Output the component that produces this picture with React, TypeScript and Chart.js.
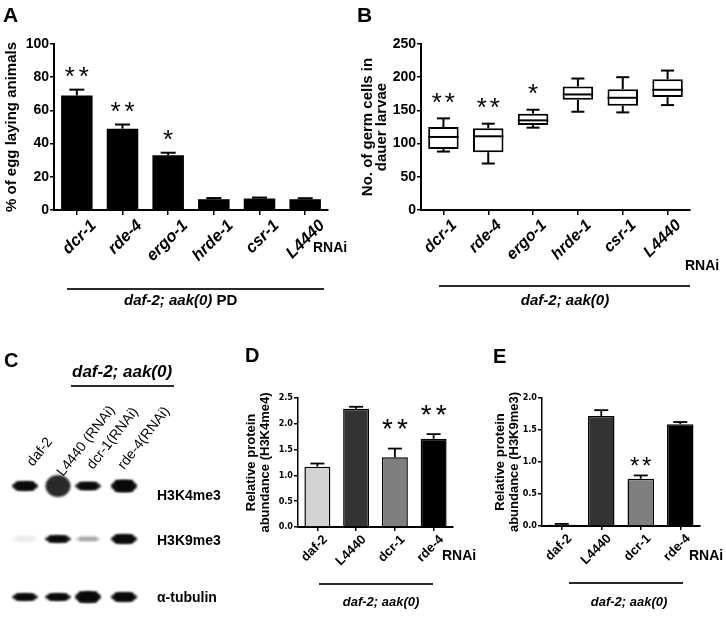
import React, { useEffect, useRef } from 'react';
import { Chart, registerables } from 'chart.js';

Chart.register(...registerables);

const FONT = "'Liberation Sans', Arial, Helvetica, sans-serif";
const NARROW = "'Liberation Sans Narrow', 'DejaVu Sans Condensed', 'Liberation Sans', sans-serif";

// ---------- Panel A ----------
const A_CATEGORIES = ['dcr-1', 'rde-4', 'ergo-1', 'hrde-1', 'csr-1', 'L4440'];
const A_VALUES = [69, 49, 33, 6.5, 7, 6.5];
const A_ERRORS = [3.5, 2.5, 1.5, 0.7, 0.5, 0.6];
const A_STARS = ['**', '**', '*', '', '', ''];
const A_TICKS = [0, 20, 40, 60, 80, 100];

// ---------- Panel B ----------
const B_CATEGORIES = ['dcr-1', 'rde-4', 'ergo-1', 'hrde-1', 'csr-1', 'L4440'];
const B_MIN = [88, 70, 124, 148, 147, 158];
const B_Q1 = [92, 87, 128, 166, 157, 170];
const B_MEDIAN = [110, 111, 135, 174, 169, 181];
const B_Q3 = [125, 123, 145, 186, 182, 197];
const B_MAX = [138, 130, 151, 198, 200, 210];
const B_STARS = ['**', '**', '*', '', '', ''];
const B_TICKS = [0, 50, 100, 150, 200, 250];

// ---------- Panels D & E ----------
const DE_CATEGORIES = ['daf-2', 'L4440', 'dcr-1', 'rde-4'];
const DE_COLORS = ['#d3d3d3', '#333333', '#7f7f7f', '#000000'];
const D_VALUES = [1.17, 2.29, 1.35, 1.71];
const D_ERRORS = [0.06, 0.04, 0.17, 0.09];
const D_STARS = ['', '', '**', '**'];
const D_TICKS = [0, 0.5, 1.0, 1.5, 2.0, 2.5];
const E_VALUES = [0.025, 1.72, 0.74, 1.59];
const E_ERRORS = [0.008, 0.09, 0.05, 0.035];
const E_STARS = ['', '', '**', ''];
const E_TICKS = [0, 0.5, 1.0, 1.5, 2.0];

// ---------- Panel C (western blot) ----------
const BLOT_LANES = ['daf-2', 'L4440 (RNAi)', 'dcr-1(RNAi)', 'rde-4(RNAi)'];
const BLOT_ROWS = ['H3K4me3', 'H3K9me3', 'α-tubulin'];
const BLOT_DARKNESS = [
  [0.97, 0.95, 0.9, 0.97],
  [0.04, 0.92, 0.2, 0.97],
  [0.95, 0.95, 0.97, 0.95],
];
const BLOT_THICKNESS = [
  [9, 22, 8, 12],
  [7, 7, 5, 9],
  [7, 7, 11, 9],
];

const annotPlugin = {
  id: 'annot',
  afterDatasetsDraw(chart: any, _args: any, opts: any) {
    const ctx = chart.ctx;
    const ys = chart.scales.y;
    const meta = chart.getDatasetMeta(0);
    const line = (x1: number, y1: number, x2: number, y2: number) => {
      ctx.beginPath();
      ctx.moveTo(x1, y1);
      ctx.lineTo(x2, y2);
      ctx.stroke();
    };
    ctx.save();
    ctx.strokeStyle = '#000';
    ctx.lineWidth = opts.lineWidth || 2;
    const tops: number[] = [];
    meta.data.forEach((el: any, i: number) => {
      const x = el.x;
      const cap = opts.cap / 2;
      if (opts.box) {
        const b = opts.box;
        const half = el.width / 2;
        const pMed = ys.getPixelForValue(b.median[i]);
        line(x - half, pMed, x + half, pMed);
        const pMax = ys.getPixelForValue(b.max[i]);
        const pQ3 = ys.getPixelForValue(b.q3[i]);
        const pMin = ys.getPixelForValue(b.min[i]);
        const pQ1 = ys.getPixelForValue(b.q1[i]);
        line(x, pQ3, x, pMax);
        line(x - cap, pMax, x + cap, pMax);
        line(x, pQ1, x, pMin);
        line(x - cap, pMin, x + cap, pMin);
        tops[i] = b.max[i];
      } else {
        const v = opts.values[i];
        const e = opts.errors[i];
        const p0 = ys.getPixelForValue(v);
        const p1 = ys.getPixelForValue(v + e);
        line(x, p0, x, p1);
        line(x - cap, p1, x + cap, p1);
        tops[i] = v + e;
      }
    });
    ctx.fillStyle = '#000';
    ctx.font = opts.starFont;
    ctx.textAlign = 'center';
    ctx.textBaseline = 'middle';
    (opts.stars as string[]).forEach((s, i) => {
      if (!s) return;
      const el = meta.data[i];
      const y = ys.getPixelForValue(tops[i]) - opts.starGap;
      const n = s.length;
      for (let k = 0; k < n; k++) {
        const sx = el.x + (k - (n - 1) / 2) * opts.starSpacing;
        ctx.fillText('*', sx, y);
      }
    });
    ctx.restore();
  },
};

function makeConfig(p: any) {
  return {
    type: 'bar',
    data: {
      labels: p.labels,
      datasets: [
        {
          data: p.data,
          backgroundColor: p.colors,
          borderColor: '#000',
          borderWidth: p.borderWidth,
          borderSkipped: p.borderSkipped,
          barPercentage: p.barPct,
          categoryPercentage: 1,
        },
      ],
    },
    plugins: [annotPlugin],
    options: {
      animation: false,
      responsive: false,
      maintainAspectRatio: false,
      events: [],
      layout: { padding: p.pad },
      plugins: {
        legend: { display: false },
        tooltip: { enabled: false },
        annot: p.annot,
      },
      scales: {
        x: {
          grid: {
            display: true,
            drawOnChartArea: false,
            offset: false,
            tickLength: p.xTickLen,
            color: '#000',
            lineWidth: 1.5,
          },
          border: { display: true, color: '#000', width: p.xBorder },
          ticks: {
            color: '#000',
            font: p.catFont,
            maxRotation: 45,
            minRotation: 45,
            labelOffset: p.labelOffset,
            padding: p.xPad,
            autoSkip: false,
          },
          afterFit: (s: any) => {
            s.height = p.xHeight;
          },
        },
        y: {
          min: p.yMin,
          max: p.yMax,
          afterBuildTicks: (s: any) => {
            s.ticks = p.ticks.map((v: number) => ({ value: v }));
          },
          grid: {
            display: true,
            drawOnChartArea: false,
            tickLength: p.yTickLen,
            color: '#000',
            lineWidth: 1.5,
          },
          border: { display: true, color: '#000', width: p.yBorder },
          ticks: {
            color: '#000',
            font: p.tickFont,
            padding: 1,
            callback: p.tickFmt,
          },
          title: {
            display: true,
            text: p.title,
            color: '#000',
            font: p.titleFont,
            padding: { top: p.titlePad, bottom: 0 },
          },
          afterFit: (s: any) => {
            s.width = p.yWidth;
          },
        },
      },
    },
  };
}

function ChartCanvas({ left, top, width, height, config }: any) {
  const ref = useRef<HTMLCanvasElement | null>(null);
  useEffect(() => {
    const chart = new Chart(ref.current as HTMLCanvasElement, config() as any);
    return () => chart.destroy();
  }, []);
  return (
    <canvas
      ref={ref}
      width={width}
      height={height}
      style={{ position: 'absolute', left, top, width, height }}
    />
  );
}

function T({ x, y, size, weight = 'bold', italic = false, center = false, rotate = 0, children }: any) {
  const asc = 0.8465 * size;
  const transforms: string[] = [];
  if (center) transforms.push('translateX(-50%)');
  if (rotate) transforms.push(`rotate(${rotate}deg)`);
  return (
    <div
      style={{
        position: 'absolute',
        left: x,
        top: y - asc,
        fontFamily: FONT,
        fontSize: size,
        lineHeight: `${size}px`,
        fontWeight: weight,
        fontStyle: italic ? 'italic' : 'normal',
        whiteSpace: 'nowrap',
        color: '#000',
        transform: transforms.length ? transforms.join(' ') : undefined,
        transformOrigin: rotate ? `0px ${asc}px` : undefined,
      }}
    >
      {children}
    </div>
  );
}

function HLine({ x1, x2, y }: any) {
  return (
    <div
      style={{
        position: 'absolute',
        left: x1,
        top: y - 1,
        width: x2 - x1,
        height: 2,
        background: '#2a2a2a',
      }}
    />
  );
}

function Blot() {
  const ref = useRef<HTMLCanvasElement | null>(null);
  useEffect(() => {
    const c = ref.current as HTMLCanvasElement;
    const ctx = c.getContext('2d') as CanvasRenderingContext2D;
    ctx.clearRect(0, 0, c.width, c.height);
    const laneX = [25, 58, 88, 124];
    const rowY = [486, 539, 597];
    ctx.filter = 'blur(1.3px)';
    BLOT_DARKNESS.forEach((row, r) => {
      row.forEach((d, l) => {
        const t = BLOT_THICKNESS[r][l];
        const big = t > 15;
        const shade = big ? 30 : 10;
        ctx.fillStyle = `rgba(${shade},${shade},${shade},${d})`;
        ctx.beginPath();
        ctx.ellipse(laneX[l], rowY[r], big ? 12.5 : 13, t / 2, 0, 0, Math.PI * 2);
        ctx.fill();
        if (!big) {
          ctx.fillRect(laneX[l] - 9, rowY[r] - t / 2, 18, t);
        }
      });
    });
  }, []);
  return (
    <canvas
      ref={ref}
      width={726}
      height={619}
      style={{ position: 'absolute', left: 0, top: 0, width: 726, height: 619 }}
    />
  );
}

const boldFont = (size: number, italic = false, family = FONT) => ({
  family,
  size,
  weight: 'bold',
  style: italic ? 'italic' : 'normal',
  lineHeight: 1.2,
});

export default function App() {
  const configA = () =>
    makeConfig({
      labels: A_CATEGORIES,
      data: A_VALUES,
      colors: '#000',
      borderWidth: 0,
      borderSkipped: 'start',
      barPct: 0.69,
      pad: { left: 0, top: 44, right: 32, bottom: 0 },
      xHeight: 100,
      yWidth: 54,
      yMin: 0,
      yMax: 100,
      ticks: A_TICKS,
      tickFmt: (v: any) => String(v),
      tickFont: boldFont(14),
      catFont: boldFont(16.5, true),
      title: '% of egg laying animals',
      titleFont: boldFont(15),
      titlePad: 3,
      labelOffset: 17,
      xPad: 1,
      xTickLen: 5,
      yTickLen: 4,
      xBorder: 2,
      yBorder: 2,
      annot: {
        values: A_VALUES,
        errors: A_ERRORS,
        stars: A_STARS,
        cap: 15,
        starFont: `26px ${FONT}`,
        starGap: 12,
        starSpacing: 14,
      },
    });

  const configB = () =>
    makeConfig({
      labels: B_CATEGORIES,
      data: B_Q1.map((q, i) => [q, B_Q3[i]]),
      colors: '#fff',
      borderWidth: 2,
      borderSkipped: false,
      barPct: 0.68,
      pad: { left: 0, top: 44, right: 36, bottom: 0 },
      xHeight: 100,
      yWidth: 61,
      yMin: 0,
      yMax: 250,
      ticks: B_TICKS,
      tickFmt: (v: any) => String(v),
      tickFont: boldFont(14),
      catFont: boldFont(16, true),
      title: ['No. of germ cells in', 'dauer larvae'],
      titleFont: { ...boldFont(15), lineHeight: 0.9 },
      titlePad: 1.5,
      labelOffset: 11,
      xPad: 1,
      xTickLen: 5,
      yTickLen: 4,
      xBorder: 2,
      yBorder: 2,
      annot: {
        box: { min: B_MIN, q1: B_Q1, median: B_MEDIAN, q3: B_Q3, max: B_MAX },
        stars: B_STARS,
        cap: 13,
        starFont: `26px ${FONT}`,
        starGap: 15,
        starSpacing: 13,
      },
    });

  const configD = () =>
    makeConfig({
      labels: DE_CATEGORIES,
      data: D_VALUES,
      colors: DE_COLORS,
      borderWidth: 1.5,
      borderSkipped: 'start',
      barPct: 0.67,
      pad: { left: 0, top: 88, right: 37, bottom: 0 },
      xHeight: 92,
      yWidth: 58,
      yMin: 0,
      yMax: 2.5,
      ticks: D_TICKS,
      tickFmt: (v: any) => Number(v).toFixed(1),
      tickFont: boldFont(9, false, NARROW),
      catFont: boldFont(13),
      title: ['Relative protein', 'abundance (H3K4me4)'],
      titleFont: { ...boldFont(13), lineHeight: 1.08 },
      titlePad: 4,
      labelOffset: 8,
      xPad: 1,
      xTickLen: 4,
      yTickLen: 4,
      xBorder: 2,
      yBorder: 1.5,
      annot: {
        values: D_VALUES,
        errors: D_ERRORS,
        stars: D_STARS,
        cap: 14,
        lineWidth: 1.8,
        starFont: `28px ${FONT}`,
        starGap: 18,
        starSpacing: 15,
      },
    });

  const configE = () =>
    makeConfig({
      labels: DE_CATEGORIES,
      data: E_VALUES,
      colors: DE_COLORS,
      borderWidth: 1.5,
      borderSkipped: 'start',
      barPct: 0.67,
      pad: { left: 0, top: 88, right: 26, bottom: 0 },
      xHeight: 93,
      yWidth: 52,
      yMin: 0,
      yMax: 2.0,
      ticks: E_TICKS,
      tickFmt: (v: any) => Number(v).toFixed(1),
      tickFont: boldFont(9, false, NARROW),
      catFont: boldFont(13),
      title: ['Relative protein', 'abundance (H3K9me3)'],
      titleFont: { ...boldFont(13), lineHeight: 1.08 },
      titlePad: 3,
      labelOffset: 8,
      xPad: 1,
      xTickLen: 4,
      yTickLen: 4,
      xBorder: 2,
      yBorder: 1.5,
      annot: {
        values: E_VALUES,
        errors: E_ERRORS,
        stars: E_STARS,
        cap: 14,
        lineWidth: 1.8,
        starFont: `24px ${FONT}`,
        starGap: 8,
        starSpacing: 12,
      },
    });

  return (
    <div
      style={{
        position: 'absolute',
        left: 0,
        top: 0,
        width: 726,
        height: 619,
        background: '#fff',
        overflow: 'hidden',
      }}
    >
      <Blot />
      <ChartCanvas left={0} top={0} width={360} height={310} config={configA} />
      <ChartCanvas left={360} top={0} width={366} height={310} config={configB} />
      <ChartCanvas left={240} top={310} width={250} height={309} config={configD} />
      <ChartCanvas left={490} top={310} width={236} height={309} config={configE} />

      {/* panel letters */}
      <T x={3} y={22} size={21}>A</T>
      <T x={357} y={22} size={21}>B</T>
      <T x={4} y={367} size={20}>C</T>
      <T x={245} y={362} size={20}>D</T>
      <T x={493} y={363} size={20}>E</T>

      {/* RNAi labels */}
      <T x={313} y={252} size={14}>RNAi</T>
      <T x={685} y={270} size={14}>RNAi</T>
      <T x={442} y={560} size={14}>RNAi</T>
      <T x={689} y={560} size={14}>RNAi</T>

      {/* genotype brackets */}
      <HLine x1={67} x2={324} y={289} />
      <T x={124} y={305} size={15}>
        <i>daf-2; aak(0)</i> PD
      </T>
      <HLine x1={439} x2={690} y={286} />
      <T x={565} y={305} size={15} italic center>daf-2; aak(0)</T>
      <HLine x1={319} x2={433} y={584} />
      <T x={381} y={606} size={13} italic center>daf-2; aak(0)</T>
      <HLine x1={569} x2={683} y={583} />
      <T x={629} y={606} size={13} italic center>daf-2; aak(0)</T>

      {/* blot labels */}
      <T x={72} y={377} size={17} italic>daf-2; aak(0)</T>
      <HLine x1={71} x2={174} y={386} />
      {BLOT_LANES.map((lane, i) => (
        <T key={lane} x={[33, 63, 93, 124][i]} y={[467, 477, 470, 470][i]} size={14} weight="normal" rotate={-52}>
          {lane}
        </T>
      ))}
      {BLOT_ROWS.map((row, i) => (
        <T key={row} x={157} y={[500, 545, 602][i]} size={14}>
          {row}
        </T>
      ))}
    </div>
  );
}
